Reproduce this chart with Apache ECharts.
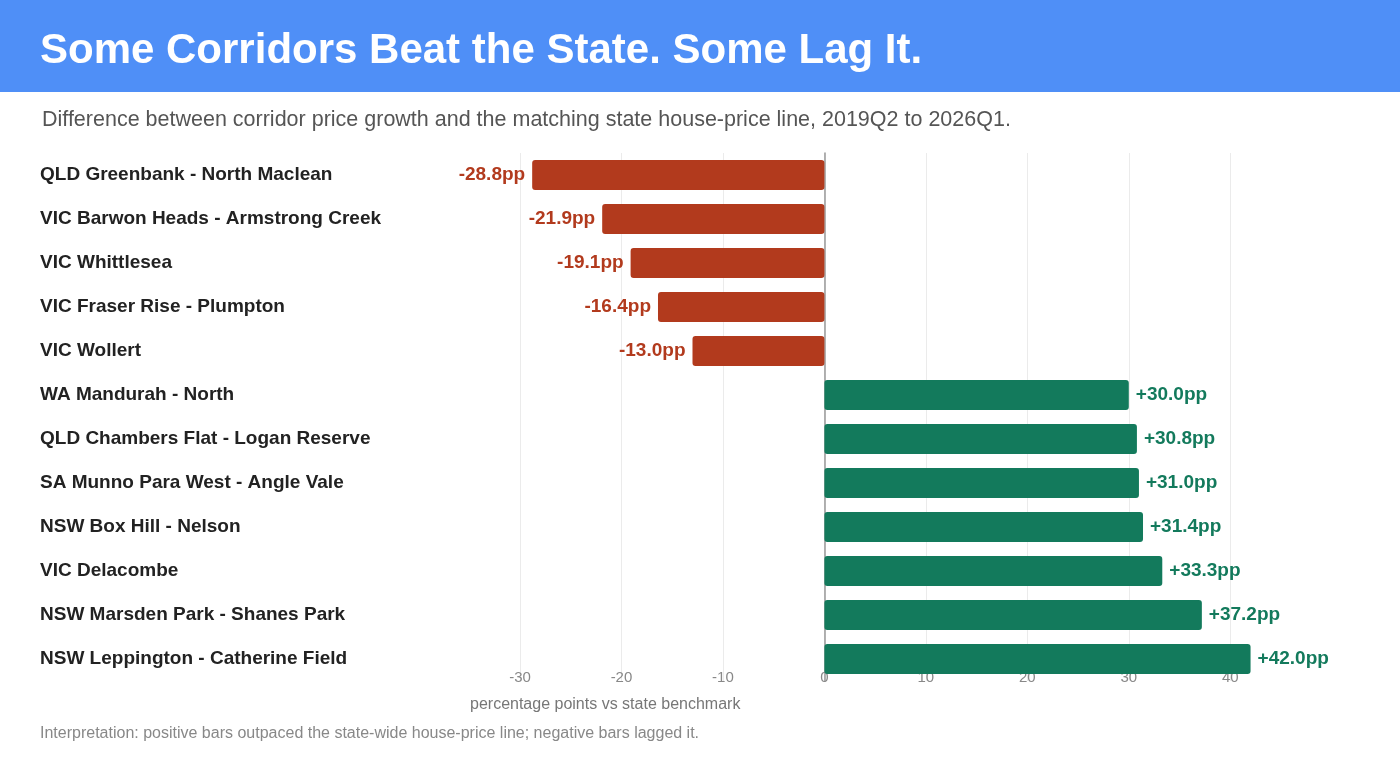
<!DOCTYPE html>
<html>
<head>
<meta charset="utf-8">
<script src="https://cdn.jsdelivr.net/npm/echarts@6/dist/echarts.min.js"></script>
<style>
  html, body { margin: 0; padding: 0; background: #fff; }
  #chart { width: 1400px; height: 760px; }
</style>
</head>
<body>
<div id="chart"></div>
<script>
const corridors = [
  "QLD Greenbank - North Maclean",
  "VIC Barwon Heads - Armstrong Creek",
  "VIC Whittlesea",
  "VIC Fraser Rise - Plumpton",
  "VIC Wollert",
  "WA Mandurah - North",
  "QLD Chambers Flat - Logan Reserve",
  "SA Munno Para West - Angle Vale",
  "NSW Box Hill - Nelson",
  "VIC Delacombe",
  "NSW Marsden Park - Shanes Park",
  "NSW Leppington - Catherine Field"
];
const gapPP = [-28.8, -21.9, -19.1, -16.4, -13.0, 30.0, 30.8, 31.0, 31.4, 33.3, 37.2, 42.0];

const RED = "#b23a1d";
const GREEN = "#137a5c";
const FONT = "'Liberation Sans', Arial, sans-serif";

const chart = echarts.init(document.getElementById("chart"));

const barData = gapPP.map((v) => ({
  value: v,
  itemStyle: { color: v < 0 ? RED : GREEN },
  label: {
    position: v < 0 ? "left" : "right",
    color: v < 0 ? RED : GREEN
  }
}));

chart.setOption({
  animation: false,
  textStyle: { fontFamily: FONT },
  graphic: [
    {
      type: "rect",
      left: 0, top: 0,
      shape: { width: 1400, height: 92 },
      style: { fill: "#4f8ff7" },
      z: -1
    },
    {
      type: "text",
      left: 470, top: 697,
      style: { text: "percentage points vs state benchmark", fill: "#777", font: "16px " + FONT }
    }
  ],
  title: [
    {
      text: "Some Corridors Beat the State. Some Lag It.",
      left: 35, top: 25,
      textStyle: { color: "#fff", fontSize: 42, fontWeight: "bold", fontFamily: FONT }
    },
    {
      text: "Difference between corridor price growth and the matching state house-price line, 2019Q2 to 2026Q1.",
      left: 37, top: 104,
      textStyle: { color: "#555", fontSize: 21.5, fontWeight: "normal", fontFamily: FONT }
    },
    {
      text: "Interpretation: positive bars outpaced the state-wide house-price line; negative bars lagged it.",
      left: 35, top: 721,
      textStyle: { color: "#888", fontSize: 16, fontWeight: "normal", fontFamily: FONT }
    }
  ],
  grid: { left: 520, right: 119, top: 153, bottom: 79 },
  xAxis: {
    type: "value",
    min: -30, max: 45, interval: 10,
    axisLine: { show: false },
    axisTick: { show: false },
    axisLabel: { color: "#888", fontSize: 15, margin: -11, showMaxLabel: false, fontFamily: FONT },
    splitLine: { show: true, showMaxLine: false, lineStyle: { color: "#ebebeb" } }
  },
  yAxis: {
    type: "category",
    data: corridors,
    inverse: true,
    axisLine: { show: true, onZero: true, lineStyle: { color: "#999", width: 1.5 } },
    axisTick: { show: false },
    axisLabel: {
      align: "left",
      margin: 480,
      color: "#222",
      fontSize: 19,
      fontWeight: "bold",
      fontFamily: FONT,
      padding: [4, 0, 0, 0]
    }
  },
  series: [{
    type: "bar",
    data: barData,
    barWidth: 30,
    itemStyle: { borderRadius: 3 },
    label: {
      show: true,
      distance: 7,
      fontSize: 19,
      fontWeight: "bold",
      fontFamily: FONT,
      padding: [4, 0, 0, 0],
      formatter: (p) => (p.value > 0 ? "+" : "") + p.value.toFixed(1) + "pp"
    }
  }]
});
</script>
</body>
</html>
